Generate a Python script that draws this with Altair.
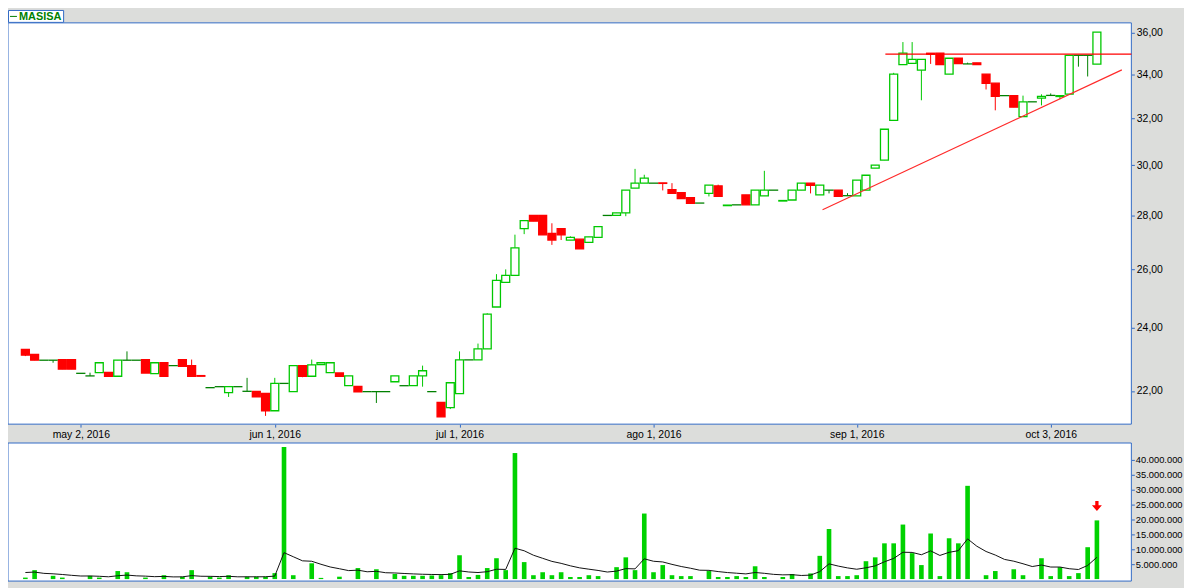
import altair as alt
import pandas as pd

# ---------------- data ----------------
OPEN = [23.29, 23.13, 22.95, 22.95, 22.97, 22.97, 22.54, 22.46, 22.56, 22.57,
        22.45, 22.95, 22.95, 22.97, 22.53, 22.87, 22.78, 22.97, 22.78, 22.47,
        22.10, 22.13, 21.95, 22.13, 21.99, 21.99, 21.93, 21.41, 22.23, 21.98,
        22.78, 22.45, 22.81, 22.56, 22.55, 22.16, 22.14, 21.98, 21.98, 21.98,
        22.28, 22.16, 22.16, 22.46, 21.98, 21.66, 21.50, 21.92, 22.96, 22.96,
        23.31, 24.69, 25.54, 25.79, 27.50, 28.00, 28.00, 27.32, 27.50, 27.07,
        27.10, 26.98, 27.17, 28.00, 28.00, 28.10, 29.07, 29.27, 29.27, 29.28,
        29.01, 28.89, 28.69, 28.48, 28.86, 29.16, 28.38, 28.41, 28.80, 28.41,
        28.76, 28.99, 28.56, 28.60, 28.99, 29.27, 28.80, 28.99, 28.99, 28.77,
        28.76, 28.99, 29.88, 30.21, 31.91, 34.45, 34.51, 34.19, 34.99, 34.99,
        34.00, 34.76, 34.48, 34.53, 34.00, 33.58, 33.01, 33.01, 32.07, 32.73,
        32.90, 33.02, 32.97, 33.08, 34.89, 34.89, 34.47]
HIGH = [23.29, 23.13, 22.95, 22.95, 22.97, 22.97, 22.54, 22.56, 22.87, 22.57,
        22.95, 23.23, 22.95, 22.97, 22.87, 22.87, 22.78, 22.97, 22.97, 22.47,
        22.10, 22.13, 22.13, 22.13, 22.40, 21.99, 21.93, 22.40, 22.23, 22.78,
        22.78, 22.97, 22.87, 22.87, 22.55, 22.46, 22.14, 21.98, 21.98, 21.98,
        22.46, 22.16, 22.46, 22.78, 21.98, 21.66, 22.25, 23.23, 22.96, 23.48,
        24.48, 25.83, 26.00, 27.27, 27.80, 28.00, 28.00, 27.70, 27.50, 27.21,
        27.10, 27.19, 27.57, 28.00, 28.10, 28.99, 29.85, 29.61, 29.27, 29.28,
        29.27, 28.89, 28.69, 28.48, 29.19, 29.21, 28.40, 28.41, 28.80, 28.99,
        29.77, 28.99, 28.58, 28.99, 29.27, 29.27, 29.19, 28.99, 28.99, 28.87,
        29.39, 29.59, 30.00, 31.52, 34.06, 35.53, 35.53, 34.70, 34.99, 34.99,
        34.75, 34.76, 34.54, 34.53, 34.00, 33.58, 33.01, 33.01, 33.01, 32.73,
        33.07, 33.11, 33.01, 34.89, 34.89, 34.89, 36.02]
LOW = [23.08, 22.95, 22.95, 22.87, 22.67, 22.67, 22.54, 22.46, 22.56, 22.45,
       22.45, 22.95, 22.95, 22.55, 22.53, 22.45, 22.78, 22.76, 22.45, 22.45,
       22.10, 22.13, 21.82, 22.13, 21.99, 21.82, 21.26, 21.41, 22.23, 21.98,
       22.42, 22.45, 22.81, 22.56, 22.45, 22.16, 21.97, 21.98, 21.64, 21.98,
       22.28, 22.16, 22.16, 22.13, 21.98, 21.23, 21.46, 21.92, 22.96, 22.96,
       23.31, 24.69, 25.54, 25.79, 27.29, 27.78, 27.26, 26.89, 27.07, 27.07,
       26.74, 26.98, 27.17, 28.00, 28.00, 27.97, 29.07, 29.27, 29.27, 28.98,
       28.86, 28.66, 28.47, 28.48, 28.74, 28.74, 28.38, 28.41, 28.41, 28.41,
       28.76, 28.99, 28.56, 28.60, 28.99, 28.86, 28.80, 28.86, 28.74, 28.77,
       28.76, 28.99, 29.88, 30.21, 31.91, 34.45, 34.51, 32.80, 34.48, 34.45,
       34.00, 34.50, 34.48, 34.45, 33.29, 32.35, 33.01, 32.49, 32.07, 32.73,
       32.57, 33.02, 32.85, 33.08, 34.35, 33.89, 34.47]
CLOSE = [23.11, 22.95, 22.95, 22.95, 22.67, 22.67, 22.54, 22.46, 22.87, 22.45,
         22.95, 22.95, 22.95, 22.55, 22.87, 22.45, 22.78, 22.76, 22.45, 22.45,
         22.10, 22.13, 22.13, 22.13, 21.99, 21.82, 21.41, 22.23, 22.23, 22.78,
         22.45, 22.80, 22.87, 22.87, 22.45, 22.46, 21.97, 21.98, 21.98, 21.98,
         22.46, 22.16, 22.46, 22.62, 21.98, 21.23, 22.25, 22.96, 22.96, 23.31,
         24.45, 25.61, 25.79, 26.78, 27.80, 27.78, 27.26, 27.07, 27.26, 27.17,
         26.74, 27.19, 27.57, 28.00, 28.10, 28.99, 29.27, 29.47, 29.27, 29.26,
         28.86, 28.66, 28.47, 28.48, 29.19, 28.74, 28.40, 28.41, 28.41, 28.99,
         28.99, 28.99, 28.58, 28.99, 29.27, 29.18, 29.19, 28.99, 28.74, 28.77,
         29.39, 29.59, 30.00, 31.52, 34.00, 34.99, 34.70, 34.70, 34.94, 34.45,
         34.75, 34.50, 34.48, 34.45, 33.57, 32.98, 33.01, 32.49, 32.73, 32.73,
         32.98, 33.02, 33.01, 34.89, 34.89, 34.89, 36.02]
# volume in millions of shares
VOLUME_M = [0.5, 3.0, 0, 1.1, 0.5, 0, 0, 1.1, 0.5, 0,
            2.7, 2.3, 0, 0.5, 0, 1.3, 0, 0.8, 3.0, 0,
            0.8, 0.5, 1.3, 0, 0.8, 0.8, 0.8, 2.0, 44.3, 1.3,
            0, 5.3, 0.4, 0, 0.8, 0, 3.7, 0, 3.3, 0,
            1.7, 1.1, 1.1, 1.1, 1.2, 1.3, 2.0, 8.0, 0.7, 1.4,
            3.7, 7.0, 3.0, 42.3, 5.7, 1.3, 2.3, 1.3, 2.3, 0.7,
            0.7, 1.3, 1.0, 0, 4.0, 7.3, 3.0, 22.0, 2.3, 4.7,
            1.3, 1.0, 1.0, 0, 2.7, 0.7, 0.7, 1.0, 0.7, 4.3,
            0.7, 0, 0.7, 1.7, 0, 1.9, 7.8, 16.8, 1.0, 1.0,
            1.3, 6.0, 7.3, 12.0, 12.0, 18.3, 8.7, 4.7, 15.3, 1.0,
            13.7, 12.0, 31.3, 0, 1.3, 2.7, 0, 3.3, 1.3, 0,
            7.0, 1.0, 4.0, 1.0, 2.0, 10.7, 19.7]
# volume moving average (black line), millions
VOL_MA_M = [2.20, 2.35, 1.92, 1.77, 1.54, 1.26, 1.03, 1.04, 0.94, 0.77,
            1.12, 1.34, 1.09, 0.99, 0.81, 0.90, 0.73, 0.75, 1.16, 0.95,
            0.92, 0.84, 0.93, 0.76, 0.77, 0.77, 0.78, 1.00, 8.87, 7.50,
            6.13, 5.98, 4.97, 4.06, 3.47, 2.84, 3.00, 2.45, 2.61, 2.13,
            2.05, 1.88, 1.74, 1.62, 1.55, 1.50, 1.59, 2.76, 2.38, 2.20,
            2.48, 3.30, 3.24, 10.35, 9.50, 8.01, 6.97, 5.94, 5.28, 4.45,
            3.77, 3.32, 2.90, 2.37, 2.67, 3.51, 3.42, 6.80, 5.98, 5.75,
            4.94, 4.22, 3.64, 2.98, 2.93, 2.52, 2.19, 1.97, 1.74, 2.21,
            1.93, 1.58, 1.42, 1.47, 1.21, 1.33, 2.51, 5.11, 4.36, 3.75,
            3.30, 3.79, 4.43, 5.81, 6.93, 9.00, 8.95, 8.17, 9.47, 7.93,
            8.98, 9.53, 13.49, 11.03, 9.26, 8.07, 6.60, 6.00, 5.15, 4.21,
            4.72, 4.04, 4.04, 3.48, 3.21, 4.57, 7.32]

TICK_SLOTS = [6, 27, 47, 68, 90, 111]
TICK_LABELS = ["may 2, 2016", "jun 1, 2016", "jul 1, 2016",
               "ago 1, 2016", "sep 1, 2016", "oct 3, 2016"]
PRICE_TICKS = [22, 24, 26, 28, 30, 32, 34, 36]
VOLUME_TICKS_M = [5, 10, 15, 20, 25, 30, 35, 40]

RESIST_SLOT = [93.1]
RESIST_PRICE = [34.95]
TREND_SLOT = [86.3, 118.7]
TREND_PRICE = [28.22, 34.20]
ARROW_SLOT = [116]
ARROW_VOL_M = [24.5]

X_DOMAIN = [-1.88, 119.73]
P_DOMAIN = [21.02, 36.48]
V_DOMAIN_M = [-0.67, 45.67]

# ---------------- style ----------------
W, H, PAD_R = 1131, 580, 53
P_RANGE = [417, 13]
V_RANGE = [575, 436]
BG = "#DCDDDB"
BLUE = "#316AC5"
GREEN = "#00C800"
DARKG = "#008000"
RED = "#FF0000"
VOLG = "#00D200"
FONT = "Liberation Sans"
FS = 10.5
FS_VOL = 9.4

# ---------------- tables ----------------
n = len(OPEN)
kind = ["up" if c > o else ("down" if c < o else "doji") for o, c in zip(OPEN, CLOSE)]
df = pd.DataFrame({
    "slot": list(range(n)), "open": OPEN, "high": HIGH, "low": LOW,
    "close": CLOSE, "kind": kind,
    "volume": [v * 1e6 for v in VOLUME_M],
    "ma": [v * 1e6 for v in VOL_MA_M],
})
df["vbase"] = 0.0

frame_p_df = pd.DataFrame({"x0": [X_DOMAIN[0]], "x1": [X_DOMAIN[1]],
                           "y0": [P_DOMAIN[0]], "y1": [P_DOMAIN[1]]})
frame_v_df = pd.DataFrame({"x0": [X_DOMAIN[0]], "x1": [X_DOMAIN[1]],
                           "y0": [V_DOMAIN_M[0] * 1e6], "y1": [V_DOMAIN_M[1] * 1e6]})
resist_df = pd.DataFrame({"x0": RESIST_SLOT, "x1": [X_DOMAIN[1]], "p": RESIST_PRICE})
trend_df = pd.DataFrame({"x0": [TREND_SLOT[0]], "x1": [TREND_SLOT[1]],
                         "p0": [TREND_PRICE[0]], "p1": [TREND_PRICE[1]]})
arrow_df = pd.DataFrame({"slot": ARROW_SLOT, "v": [a * 1e6 for a in ARROW_VOL_M]})
one = pd.DataFrame({"a": [0]})

# ---------------- scales / axes ----------------
xlab = "''"
for s, l in reversed(list(zip(TICK_SLOTS, TICK_LABELS))):
    xlab = f"datum.value == {s} ? '{l}' : ({xlab})"

XS = alt.Scale(domain=X_DOMAIN, range=[0, W], nice=False, zero=False)
XAX = alt.Axis(values=TICK_SLOTS, labelExpr=xlab, title=None, orient="bottom",
               offset=-(H - P_RANGE[0]), tickSize=3, tickColor=BLUE, tickWidth=1,
               domain=False, grid=False, labelFont=FONT, labelFontSize=FS,
               labelColor="black", labelPadding=2, labelFlush=False,
               labelOverlap=False, labelBound=False)
PS = alt.Scale(type="log", domain=P_DOMAIN, range=P_RANGE, nice=False, zero=False)
PAX = alt.Axis(orient="right", values=PRICE_TICKS, title=None,
               labelExpr="replace(format(datum.value, '.2f'), '.', ',')",
               tickSize=3, tickColor=BLUE, tickWidth=1, domain=False, grid=False,
               labelFont=FONT, labelFontSize=FS, labelColor="black",
               labelPadding=2, labelOverlap=False, labelBound=False)
VS = alt.Scale(domain=[V_DOMAIN_M[0] * 1e6, V_DOMAIN_M[1] * 1e6], range=V_RANGE,
               nice=False, zero=False)
VAX = alt.Axis(orient="right", values=[v * 1e6 for v in VOLUME_TICKS_M], title=None,
               labelExpr="replace(format(datum.value, ','), regexp(',', 'g'), '.')",
               tickSize=3, tickColor=BLUE, tickWidth=1, domain=False, grid=False,
               labelFont=FONT, labelFontSize=FS_VOL, labelColor="black",
               labelPadding=1, labelOverlap=False, labelBound=False)


def X(f):
    return alt.X(f, type="quantitative", scale=XS, axis=XAX)


def YP(f):
    return alt.Y(f, type="quantitative", scale=PS, axis=PAX)


def YV(f):
    return alt.Y(f, type="quantitative", scale=VS, axis=VAX)


kind_dom = ["up", "down", "doji"]
stroke_sc = alt.Scale(domain=kind_dom, range=[GREEN, RED, DARKG])
fill_sc = alt.Scale(domain=kind_dom, range=["white", RED, DARKG])

# ---------------- price panel ----------------
frame_p = alt.Chart(frame_p_df).mark_rect(fill="white", stroke=BLUE, strokeWidth=1).encode(
    x=X("x0"), x2="x1", y=YP("y0"), y2="y1")

wicks = alt.Chart(df).mark_rule(strokeWidth=1).encode(
    x=X("slot"), y=YP("low"), y2="high",
    color=alt.Color("kind:N", scale=stroke_sc, legend=None))

bodies = alt.Chart(df).transform_filter("datum.kind != 'doji'").transform_calculate(
    bx0="datum.slot - 0.43", bx1="datum.slot + 0.43").mark_rect(strokeWidth=1.3).encode(
    x=X("bx0"), x2="bx1", y=YP("open"), y2="close",
    fill=alt.Fill("kind:N", scale=fill_sc, legend=None),
    stroke=alt.Stroke("kind:N", scale=stroke_sc, legend=None))

dojis = alt.Chart(df).transform_filter("datum.kind == 'doji'").transform_calculate(
    dx0="datum.slot - 0.5", dx1="datum.slot + 0.5").mark_rule(
    strokeWidth=1.3, color=DARKG).encode(x=X("dx0"), x2="dx1", y=YP("open"))

resist = alt.Chart(resist_df).mark_rule(color=RED, strokeWidth=1.3).encode(
    x=X("x0"), x2="x1", y=YP("p"))

trend = alt.Chart(trend_df).mark_rule(color="#FF2A2A", strokeWidth=1.2).encode(
    x=X("x0"), x2="x1", y=YP("p0"), y2="p1")

leg_box = alt.Chart(one).mark_rect(fill="white", stroke=BLUE, strokeWidth=1).encode(
    x=alt.value(0.5), x2=alt.value(56), y=alt.value(0.5), y2=alt.value(12.5))
leg_line = alt.Chart(one).mark_rule(color=DARKG, strokeWidth=1).encode(
    x=alt.value(2), x2=alt.value(9), y=alt.value(6.5))
leg_text = alt.Chart(one).mark_text(text="MASISA", font=FONT, fontSize=11,
                                    fontWeight="bold", color=DARKG, align="left",
                                    baseline="middle").encode(
    x=alt.value(11), y=alt.value(7))

price_layer = alt.layer(frame_p, wicks, bodies, dojis, resist, trend,
                        leg_box, leg_line, leg_text)

# ---------------- volume panel ----------------
frame_v = alt.Chart(frame_v_df).mark_rect(fill="white", stroke=BLUE, strokeWidth=1).encode(
    x=X("x0"), x2="x1", y=YV("y0"), y2="y1")

vbars = alt.Chart(df).transform_filter("datum.volume > 0").transform_calculate(
    vx0="datum.slot - 0.25", vx1="datum.slot + 0.25").mark_rect(color=VOLG).encode(
    x=X("vx0"), x2="vx1", y=YV("volume"), y2="vbase")

vma = alt.Chart(df).mark_line(color="#111111", strokeWidth=1).encode(
    x=X("slot"), y=YV("ma"))

ARROW_PATH = "M-0.33,-1L0.33,-1L0.33,-0.15L1,-0.15L0,1L-1,-0.15L-0.33,-0.15Z"
arrow = alt.Chart(arrow_df).mark_point(shape=ARROW_PATH, filled=True, size=100,
                                       color=RED, opacity=1).encode(
    x=X("slot"), y=YV("v"))

vol_layer = alt.layer(frame_v, vbars, vma, arrow)

chart = alt.layer(price_layer, vol_layer).resolve_scale(
    y="independent", color="independent").properties(
    width=W, height=H,
    autosize=alt.AutoSizeParams(type="none"),
    padding={"left": 0, "top": 0, "right": PAD_R, "bottom": 0},
    background=BG,
).configure_view(strokeWidth=0)

chart.save("out.html", embed_options={"renderer": "svg", "actions": False})
